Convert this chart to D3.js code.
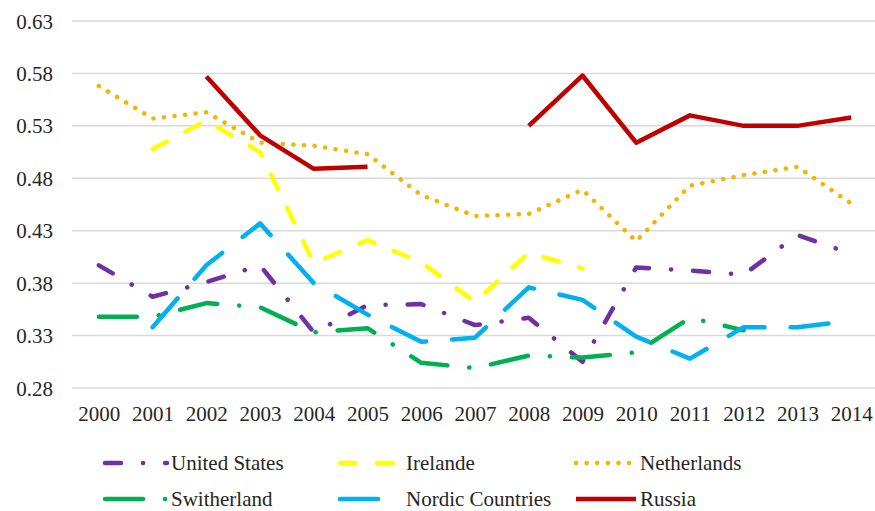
<!DOCTYPE html>
<html>
<head>
<meta charset="utf-8">
<script src="https://cdn.jsdelivr.net/npm/d3@7"></script>
<style>
  html, body { margin: 0; padding: 0; background: #fff; }
  svg { display: block; }
</style>
</head>
<body>
<svg id="chart" width="875" height="511"></svg>
<script>
// Years on the category axis
const years = ["2000","2001","2002","2003","2004","2005","2006","2007","2008","2009","2010","2011","2012","2013","2014"];
// Value axis ticks
const yTicks = [0.28, 0.33, 0.38, 0.43, 0.48, 0.53, 0.58, 0.63];

// Series values by year (null = no observation)
const unitedStates = [0.397, 0.367, 0.381, 0.397, 0.333, 0.359, 0.360, 0.340, 0.347, 0.305, 0.395, 0.392, 0.388, 0.426, 0.408];
const irelande     = [null, 0.508, 0.535, 0.505, 0.399, 0.421, 0.400, 0.362, 0.409, 0.394, null, null, null, null, null];
const netherlands  = [0.568, 0.537, 0.543, 0.514, 0.511, 0.503, 0.464, 0.444, 0.446, 0.469, 0.420, 0.473, 0.483, 0.491, 0.456];
const switherland  = [0.348, 0.348, 0.361, 0.357, 0.333, 0.337, 0.304, 0.299, 0.311, 0.309, 0.314, 0.347, 0.335, null, null];
const nordic       = [null, 0.338, 0.397, 0.437, 0.380, 0.350, 0.324, 0.328, 0.376, 0.364, 0.329, 0.308, 0.338, 0.338, 0.344];
const russia       = [null, null, 0.577, 0.521, 0.489, 0.491, null, null, 0.530, 0.578, 0.514, 0.540, 0.530, 0.530, 0.538];

const FONT = "'Liberation Serif', 'Times New Roman', Times, 'DejaVu Serif', serif";

const series = [
  { name: "United States",    values: unitedStates, color: "#7030a0", dash: "16,22,0.1,22", lx: 105, ly: 463, len: 62 },
  { name: "Irelande",         values: irelande,     color: "#ffff00", dash: "16,21",        lx: 340, ly: 463, len: 62 },
  { name: "Netherlands",      values: netherlands,  color: "#f5b400", dash: "0.1,10.5",     lx: 576, ly: 463, len: 60 },
  { name: "Switherland",      values: switherland,  color: "#00b050", dash: "38,22,0.1,22", lx: 105, ly: 499, len: 62 },
  { name: "Nordic Countries", values: nordic,       color: "#00b0f0", dash: "38,26",        lx: 340, ly: 499, len: 62 },
  { name: "Russia",           values: russia,       color: "#c00000", dash: null,           lx: 576, ly: 499, len: 60 }
];

const svg = d3.select("#chart");

const x = d3.scalePoint().domain(years).range([72, 878]).padding(0.5);
const y = d3.scaleLinear().domain([0.28, 0.63]).range([388, 21]);

// Horizontal gridlines
svg.append("g")
  .selectAll("line")
  .data(yTicks)
  .join("line")
  .attr("x1", 72).attr("x2", 875)
  .attr("y1", d => y(d)).attr("y2", d => y(d))
  .attr("stroke", "#d9d9d9").attr("stroke-width", 1.5);

// Value axis labels
const yAxis = d3.axisLeft(y).tickValues(yTicks).tickFormat(d3.format(".2f")).tickSize(0).tickPadding(0);
svg.append("g")
  .attr("transform", "translate(53,0)")
  .call(yAxis)
  .call(g => g.select(".domain").remove())
  .attr("font-family", FONT)
  .attr("font-size", 21)
  .call(g => g.selectAll("text")
    .attr("fill", "#262626")
    .attr("dy", "0.34em"));

// Category axis labels
const xAxis = d3.axisBottom(x).tickSize(0).tickPadding(0);
svg.append("g")
  .attr("transform", "translate(0,405)")
  .call(xAxis)
  .call(g => g.select(".domain").remove())
  .attr("font-family", FONT)
  .attr("font-size", 21)
  .call(g => g.selectAll("text")
    .attr("fill", "#262626")
    .attr("dy", "0.75em"));

// Series lines
const line = d3.line()
  .defined(d => d.v !== null)
  .x(d => x(d.year))
  .y(d => y(d.v));

svg.append("g")
  .selectAll("path")
  .data(series)
  .join("path")
  .attr("d", s => line(years.map((yr, i) => ({ year: yr, v: s.values[i] }))))
  .attr("fill", "none")
  .attr("stroke", s => s.color)
  .attr("stroke-width", 4.5)
  .attr("stroke-linecap", s => s.dash ? "round" : "butt")
  .attr("stroke-linejoin", "round")
  .attr("stroke-dasharray", s => s.dash);

// Legend
const legend = svg.append("g")
  .attr("font-family", FONT)
  .attr("font-size", 21)
  .selectAll("g")
  .data(series)
  .join("g");

legend.append("line")
  .attr("x1", s => s.lx).attr("x2", s => s.lx + s.len)
  .attr("y1", s => s.ly).attr("y2", s => s.ly)
  .attr("stroke", s => s.color)
  .attr("stroke-width", 4.5)
  .attr("stroke-linecap", s => s.dash ? "round" : "butt")
  .attr("stroke-dasharray", s => s.dash);

legend.append("text")
  .attr("x", s => s.lx + s.len + 4)
  .attr("y", s => s.ly)
  .attr("dy", "0.34em")
  .attr("fill", "#262626")
  .text(s => s.name);
</script>
</body>
</html>
